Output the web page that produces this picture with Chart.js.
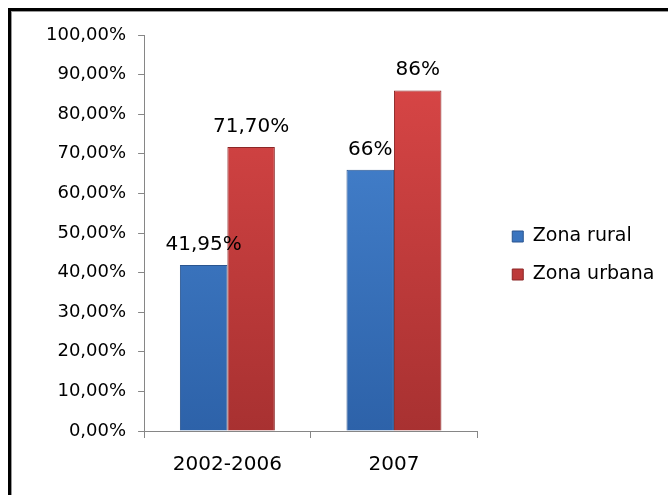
<!DOCTYPE html>
<html>
<head>
<meta charset="utf-8">
<script src="https://cdn.jsdelivr.net/npm/chart.js@4/dist/chart.umd.min.js"></script>
<style>
    html, body { margin: 0; padding: 0; background: #fff; overflow: hidden; }
    canvas { display: block; }
</style>
</head>
<body>
<canvas id="chart" width="668" height="495"></canvas>
<script>
const categories = ['2002-2006', '2007'];
const ruralValues = [41.95, 66];
const urbanValues = [71.70, 86];
const ruralLabels = ['41,95%', '66%'];
const urbanLabels = ['71,70%', '86%'];
const yTickLabels = ['0,00%', '10,00%', '20,00%', '30,00%', '40,00%', '50,00%',
    '60,00%', '70,00%', '80,00%', '90,00%', '100,00%'];

const FONT = "'DejaVu Sans', sans-serif";

function barFill(top, bottom) {
    return (context) => {
        const area = context.chart.chartArea;
        if (!area) return bottom;
        const g = context.chart.ctx.createLinearGradient(0, area.top, 0, area.bottom);
        g.addColorStop(0, top);
        g.addColorStop(1, bottom);
        return g;
    };
}

// thick frame line along the top and left edge
const frame = {
    id: 'frame',
    beforeDraw(chart) {
        const ctx = chart.ctx;
        ctx.save();
        ctx.fillStyle = '#000';
        ctx.fillRect(8, 8, chart.width - 8, 3);
        ctx.fillRect(8, 8, 3, chart.height - 8);
        ctx.fillStyle = '#999';
        ctx.fillRect(11, 11, chart.width - 11, 1);
        ctx.fillRect(11, 11, 1, chart.height - 11);
        ctx.restore();
    },
};

// value text above each bar
const barValues = {
    id: 'barValues',
    afterDatasetsDraw(chart) {
        const ctx = chart.ctx;
        ctx.save();
        ctx.font = '20px ' + FONT;
        ctx.fillStyle = '#000';
        ctx.textAlign = 'center';
        ctx.textBaseline = 'alphabetic';
        chart.data.datasets.forEach((ds, i) => {
            chart.getDatasetMeta(i).data.forEach((bar, j) => {
                ctx.fillText(ds.valueLabels[j], bar.x, bar.y - 15);
            });
        });
        ctx.restore();
    },
};

// leave a gap between the plot and the legend, let the legend run to the edge
const legendGap = {
    id: 'legendGap',
    afterLayout(chart) {
        const lg = chart.legend;
        lg.left += 16;
        lg.right = chart.width;
        lg.top -= 8;
        lg.bottom -= 8;
    },
};

new Chart(document.getElementById('chart'), {
    type: 'bar',
    data: {
        labels: categories,
        datasets: [
            {
                label: 'Zona rural',
                data: ruralValues,
                valueLabels: ruralLabels,
                backgroundColor: barFill('#4a89d6', '#2d62a9'),
                borderColor: '#2a5590',
                borderWidth: 1,
            },
            {
                label: 'Zona urbana',
                data: urbanValues,
                valueLabels: urbanLabels,
                backgroundColor: barFill('#dd4848', '#a83131'),
                borderColor: '#8c2626',
                borderWidth: 1,
            },
        ],
    },
    options: {
        responsive: false,
        animation: false,
        layout: { padding: { top: 35, left: 34, right: 43, bottom: 3 } },
        datasets: {
            bar: { categoryPercentage: 0.57, barPercentage: 1 },
        },
        plugins: {
            legend: {
                position: 'right',
                labels: {
                    boxWidth: 11,
                    boxHeight: 11,
                    padding: 19,
                    color: '#000',
                    font: { family: FONT, size: 19 },
                },
            },
            tooltip: { enabled: false },
        },
        scales: {
            x: {
                grid: { display: true, drawOnChartArea: false, color: '#868686', tickLength: 7 },
                border: { color: '#868686' },
                ticks: { color: '#000', padding: 15, font: { family: FONT, size: 20 } },
            },
            y: {
                min: 0,
                max: 100,
                grid: { display: true, drawOnChartArea: false, color: '#868686', tickLength: 6 },
                border: { color: '#868686' },
                ticks: {
                    stepSize: 10,
                    color: '#000',
                    padding: 12,
                    font: { family: FONT, size: 18 },
                    callback: (value) => yTickLabels[Math.round(value / 10)],
                },
            },
        },
    },
    plugins: [frame, barValues, legendGap],
});
</script>
</body>
</html>
